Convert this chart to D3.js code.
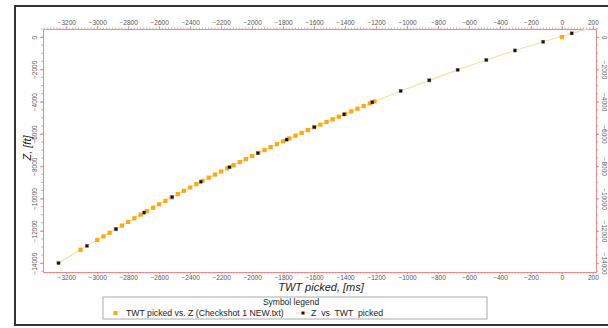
<!DOCTYPE html>
<html><head><meta charset="utf-8">
<script src="https://cdn.jsdelivr.net/npm/d3@7"></script>
<style>
html,body{margin:0;padding:0;background:#fff;}
svg{display:block;font-family:"Liberation Sans",Arial,sans-serif;}
</style></head>
<body>
<svg id="c" width="608" height="328"></svg>
<script>
// Z vs TWT picked (black markers + line)
const pickedTWT = [-3250,-3066,-2879,-2697,-2516,-2331,-2146,-1963,-1777,-1598,-1406,-1224,-1041,-856,-673,-488,-303,-121,63,245];
const pickedZ   = [-14000,-12930,-11890,-10870,-9910,-8960,-8060,-7190,-6350,-5580,-4790,-4040,-3340,-2680,-2030,-1420,-830,-290,230,720];
// TWT picked vs. Z (Checkshot 1 NEW.txt) (orange squares)
const csTWT = [-3108,-3000,-2960,-2920,-2880,-2840,-2800,-2760,-2720,-2680,-2640,-2600,-2560,-2520,-2480,-2440,-2400,-2360,-2320,-2280,-2240,-2200,-2160,-2120,-2080,-2040,-2000,-1960,-1920,-1880,-1840,-1800,-1760,-1720,-1680,-1640,-1600,-1560,-1520,-1480,-1440,-1400,-1360,-1320,-1280,-1240,-1210,0];
const csZ   = [-13175,-12563,-12341,-12118,-11896,-11672,-11448,-11224,-11000,-10780,-10568,-10356,-10144,-9932,-9725,-9520,-9314,-9109,-8907,-8712,-8517,-8323,-8128,-7936,-7746,-7556,-7366,-7176,-6995,-6816,-6635,-6454,-6277,-6105,-5933,-5761,-5589,-5424,-5260,-5094,-4930,-4765,-4600,-4436,-4271,-4106,-3986,0];
const xTicks = [-3200,-3000,-2800,-2600,-2400,-2200,-2000,-1800,-1600,-1400,-1200,-1000,-800,-600,-400,-200,0,200];
const yTicks = [0,-2000,-4000,-6000,-8000,-10000,-12000,-14000];
const xTitle = "TWT picked, [ms]";
const yTitle = "Z, [ft]";
const legendTitle = "Symbol legend";
const legendLabels = ["TWT picked vs. Z (Checkshot 1 NEW.txt)", "Z  vs  TWT  picked"];

const svg = d3.select("#c");
const L = 43, R = 596, T = 29, B = 272;
const x = d3.scaleLinear().domain([-3350, 220]).range([L, R]);
const y = d3.scaleLinear().domain([500, -14550]).range([T, B]);
const fmt = d3.format("d");

svg.append("rect").attr("x",15).attr("y",6).attr("width",600).attr("height",319)
  .attr("fill","none").attr("stroke","#333").attr("stroke-width",2);

const axCol = "#ef8a8a";
const lblCol = "#555";
const xMinor = d3.range(-3340, 221, 20);
const yMinor = d3.range(500, -14551, -500);

function styleAxis(g){
  g.select(".domain").attr("stroke",axCol);
  g.selectAll(".tick line").attr("stroke",axCol);
  g.selectAll("text").attr("fill",lblCol).attr("font-size","6.5px");
}
const minorG = svg.append("g");
function minorX(yy, dir){
  minorG.selectAll(null).data(xMinor).enter().append("line")
    .attr("x1",d=>x(d)).attr("x2",d=>x(d)).attr("y1",yy).attr("y2",yy+dir*1.5)
    .attr("stroke",axCol).attr("stroke-width",0.8);
}
function minorY(xx, dir){
  minorG.selectAll(null).data(yMinor).enter().append("line")
    .attr("y1",d=>y(d)).attr("y2",d=>y(d)).attr("x1",xx).attr("x2",xx+dir*2)
    .attr("stroke",axCol).attr("stroke-width",0.8);
}
minorX(T,-1); minorX(B,1); minorY(L,-1); minorY(R,1);

svg.append("g").attr("transform",`translate(0,${T})`)
  .call(d3.axisTop(x).tickValues(xTicks).tickFormat(fmt).tickSize(3).tickSizeOuter(0).tickPadding(1)).call(styleAxis);
svg.append("g").attr("transform",`translate(0,${B})`)
  .call(d3.axisBottom(x).tickValues(xTicks).tickFormat(fmt).tickSize(2).tickSizeOuter(0).tickPadding(1)).call(styleAxis);
const gl = svg.append("g").attr("transform",`translate(${L},0)`)
  .call(d3.axisLeft(y).tickValues(yTicks).tickFormat(fmt).tickSize(3).tickSizeOuter(0)).call(styleAxis);
gl.selectAll(".tick text").attr("text-anchor","middle").attr("x",0).attr("dy",0)
  .attr("transform","translate(-6,0) rotate(-90)");
const gr = svg.append("g").attr("transform",`translate(${R},0)`)
  .call(d3.axisRight(y).tickValues(yTicks).tickFormat(fmt).tickSize(3).tickSizeOuter(0)).call(styleAxis);
gr.selectAll(".tick text").attr("text-anchor","middle").attr("x",0).attr("dy",0)
  .attr("transform","translate(6,0) rotate(90)");

svg.append("clipPath").attr("id","clip").append("rect")
  .attr("x",L).attr("y",T).attr("width",R-L).attr("height",B-T);
const plot = svg.append("g").attr("clip-path","url(#clip)");

const lineCol = "#ffdba6";
const orange = "#ffa712";
const pts = pickedTWT.map((t,i)=>[t,pickedZ[i]]);
plot.append("path").datum(pts)
  .attr("d", d3.line().x(d=>x(d[0])).y(d=>y(d[1])))
  .attr("fill","none").attr("stroke",lineCol).attr("stroke-width",1.2);

const cs = csTWT.map((t,i)=>[t,csZ[i]]);
plot.selectAll(".cs").data(cs).enter().append("rect")
  .attr("x",d=>x(d[0])-2.1).attr("y",d=>y(d[1])-2.1).attr("width",4.2).attr("height",4.2)
  .attr("fill",orange);

plot.selectAll(".pk").data(pts).enter().append("rect")
  .attr("x",d=>x(d[0])-1.6).attr("y",d=>y(d[1])-1.6).attr("width",3.2).attr("height",3.2)
  .attr("fill","#111").attr("stroke","#777").attr("stroke-width",0.4);

svg.append("text").attr("x",321).attr("y",291).attr("text-anchor","middle")
  .attr("font-style","italic").attr("font-size","11px").attr("fill","#222").text(xTitle);
svg.append("text").attr("transform","translate(31,148) rotate(-90)").attr("text-anchor","middle")
  .attr("font-style","italic").attr("font-size","11px").attr("fill","#222").text(yTitle);

const lg = svg.append("g");
lg.append("rect").attr("x",103).attr("y",297).attr("width",384).attr("height",22)
  .attr("fill","#fff").attr("stroke","#aaa").attr("stroke-width",1);
lg.append("text").attr("x",291).attr("y",305).attr("text-anchor","middle")
  .attr("font-size","8.5px").attr("fill","#222").text(legendTitle);
lg.append("rect").attr("x",113.5).attr("y",311).attr("width",4).attr("height",4).attr("fill",orange);
lg.append("text").attr("x",126).attr("y",316).attr("font-size","8.7px").attr("fill","#222")
  .text(legendLabels[0]);
lg.append("line").attr("x1",296).attr("x2",310).attr("y1",313).attr("y2",313)
  .attr("stroke",lineCol).attr("stroke-width",1.2);
lg.append("rect").attr("x",301.5).attr("y",311.5).attr("width",3).attr("height",3).attr("fill","#111");
lg.append("text").attr("x",311).attr("y",316).attr("font-size","8.7px").attr("fill","#222")
  .style("white-space","pre").text(legendLabels[1]);
</script>
</body></html>
